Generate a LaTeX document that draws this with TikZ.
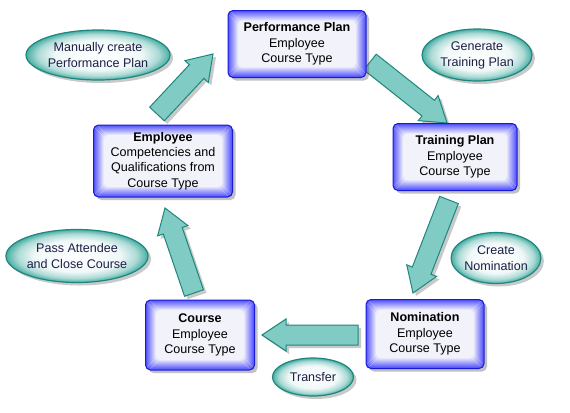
\documentclass[tikz,border=0pt]{standalone}
\usepackage{fontspec}
\setmainfont{Liberation Sans}
\usetikzlibrary{calc,shadows,shapes.geometric}
\definecolor{boxblue}{RGB}{55,55,255}
\definecolor{boxline}{RGB}{25,25,215}
\definecolor{boxin}{RGB}{242,242,250}
\definecolor{tealline}{RGB}{30,135,125}
\definecolor{tealfill}{RGB}{128,204,196}
\definecolor{tealedge}{RGB}{72,174,164}
\definecolor{elltext}{RGB}{30,30,70}
\pgfdeclareradialshading{ellsh}{\pgfpoint{0bp}{0bp}}{color(0bp)=(white); color(15bp)=(white!92!tealedge); color(21bp)=(white!55!tealedge); color(25bp)=(tealedge); color(50bp)=(tealedge)}
\tikzset{
  glow/.style={path picture={
    \foreach \i in {0,...,10}{
      \pgfmathtruncatemacro\c{85-\i*8.5}
      \draw[boxblue!\c!boxin, line width=1.2bp, rounded corners=4bp]
        ([xshift=\i*1bp+0.8bp, yshift=-\i*1bp-0.8bp]path picture bounding box.north west)
        rectangle
        ([xshift=-\i*1bp-0.8bp, yshift=\i*1bp+0.8bp]path picture bounding box.south east);
    }}},
  stepbox/.style={rectangle, rounded corners=5bp, draw=boxline, line width=1bp,
    fill=boxin, glow, align=center, inner sep=0pt,
    font=\fontsize{12.6}{15.5}\selectfont,
    drop shadow={opacity=0.35, shadow xshift=3bp, shadow yshift=-3bp, fill=black!70}},
  actell/.style={ellipse, draw=tealline, line width=1.2bp, shading=ellsh, shade,
    align=center, inner sep=0pt, text=elltext,
    font=\fontsize{12.6}{16}\selectfont,
    drop shadow={opacity=0.3, shadow xshift=3bp, shadow yshift=-3bp, fill=black!70}},
  blockarrow/.style={fill=tealfill, draw=tealline, line width=1bp, line join=miter,
    drop shadow={opacity=0.3, shadow xshift=3bp, shadow yshift=-3bp, fill=black!70}}
}
\newcommand\blockarrow[2]{%
  \coordinate (#1-h) at ($(#2)!24bp!(#1)$);
  \path[blockarrow] ($(#1)!10bp!90:(#2)$) -- ($(#1-h)!10bp!90:(#2)$)
    -- ($(#1-h)!16bp!90:(#2)$) -- (#2) -- ($(#1-h)!16bp!-90:(#2)$)
    -- ($(#1-h)!10bp!-90:(#2)$) -- ($(#1)!10bp!-90:(#2)$) -- cycle;
}
\begin{document}
\begin{tikzpicture}[x=1bp, y=-1bp]
\useasboundingbox (0,0) rectangle (570,412);
% ellipses
\node[actell, minimum width=144bp, minimum height=50bp] (e1) at (98,55) {Manually create\\Performance Plan};
\node[actell, minimum width=110bp, minimum height=52bp] (e2) at (477,55) {Generate\\Training Plan};
\node[actell, minimum width=140bp, minimum height=53bp] (e3) at (77,256) {Pass Attendee\\and Close Course};
\node[actell, minimum width=88bp, minimum height=51bp] (e4) at (496,258) {Create\\Nomination};
\node[actell, minimum width=81bp, minimum height=38bp] (e5) at (313,377) {Transfer};
% arrow end points
\coordinate (a1s) at (157,114); \coordinate (a1e) at (213,54);
\coordinate (a2s) at (370,62);  \coordinate (a2e) at (447,123);
\coordinate (a3s) at (449,200); \coordinate (a3e) at (413,293);
\coordinate (a4s) at (358,335); \coordinate (a4e) at (262,335);
\coordinate (a5s) at (194,293); \coordinate (a5e) at (165,208);
\blockarrow{a1s}{a1e}
\blockarrow{a2s}{a2e}
\blockarrow{a3s}{a3e}
\blockarrow{a4s}{a4e}
\blockarrow{a5s}{a5e}
% boxes
\node[stepbox, minimum width=138bp, minimum height=67bp] (pp) at (297,44) {\textbf{Performance Plan}\\Employee\\Course Type};
\node[stepbox, minimum width=124bp, minimum height=67bp] (tp) at (455,157) {\textbf{Training Plan}\\Employee\\Course Type};
\node[stepbox, minimum width=118bp, minimum height=69bp] (nm) at (425,334) {\textbf{Nomination}\\Employee\\Course Type};
\node[stepbox, minimum width=109bp, minimum height=70bp] (co) at (200,335) {\textbf{Course}\\Employee\\Course Type};
\node[stepbox, minimum width=139bp, minimum height=72bp] (em) at (163,161) {\textbf{Employee}\\Competencies and\\Qualifications from\\Course Type};
\end{tikzpicture}
\end{document}
